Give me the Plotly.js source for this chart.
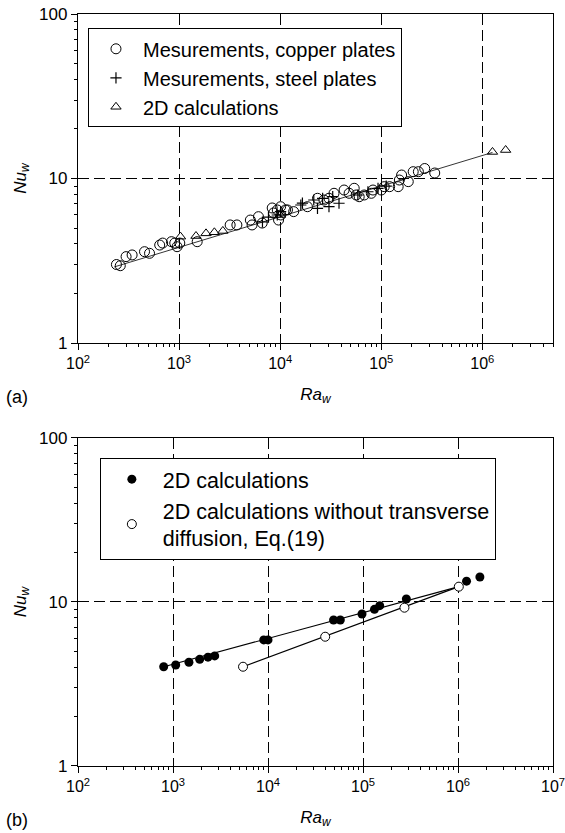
<!DOCTYPE html>
<html><head><meta charset="utf-8">
<script src="https://cdn.plot.ly/plotly-3.0.1.min.js"></script>
<style>html,body{margin:0;padding:0;background:#fff}#chart{width:565px;height:833px}</style>
</head><body><div id="chart"></div>
<script>
// ---- (a) measurements and calculations ----
const copperRa = [240, 262, 299, 343, 455, 510, 643, 688, 840, 906, 955, 1016, 1510, 3200, 3730, 5070, 5270, 6100, 6640, 8340, 8590, 9360, 9640, 10100, 10150, 11300, 11800, 13600, 18600, 23400, 27100, 30400, 34100, 42900, 48100, 54000, 56500, 60500, 67900, 79700, 82800, 100000, 107000, 121000, 147000, 151000, 159000, 185000, 207000, 233000, 269000, 338000];
const copperNu = [3.00, 2.95, 3.35, 3.43, 3.59, 3.51, 3.94, 4.05, 4.13, 4.05, 3.85, 4.05, 4.13, 5.22, 5.22, 5.59, 5.22, 5.86, 5.36, 6.62, 6.17, 6.44, 5.59, 6.74, 6.00, 6.44, 6.44, 6.29, 6.74, 7.58, 7.40, 7.58, 8.13, 8.51, 8.13, 8.72, 7.94, 7.75, 7.94, 8.13, 8.51, 8.51, 8.92, 8.92, 8.92, 9.79, 10.5, 9.57, 11.0, 11.0, 11.5, 10.8];
const steelRa = [6680, 7660, 9360, 10100, 16000, 16600, 21500, 23400, 26300, 30400, 33100, 38200, 58700, 73800, 92900, 112000];
const steelNu = [5.44, 5.83, 6.00, 6.29, 6.90, 7.08, 7.40, 6.59, 7.58, 6.74, 7.75, 7.07, 7.94, 8.31, 8.72, 9.00];
const calcTopRa = [1033, 1469, 1846, 2234, 2710, 10000, 1260000, 1700000];
const calcTopNu = [4.43, 4.47, 4.64, 4.71, 4.80, 6.00, 14.5, 14.9];
const fitTopRa = [228, 1260000];
const fitTopNu = [2.90, 14.4];

// ---- (b) calculations ----
const calcRa = [798, 1067, 1472, 1910, 2335, 2748, 9020, 10000, 49000, 57700, 97600, 132000, 150000, 286000, 1230000, 1700000];
const calcNu = [4.03, 4.13, 4.29, 4.47, 4.61, 4.69, 5.87, 5.87, 7.77, 7.77, 8.45, 9.02, 9.50, 10.43, 13.4, 14.2];
const noDiffRa = [5460, 40000, 273000, 1020000];
const noDiffNu = [4.03, 6.14, 9.23, 12.4];
const fitCalcRa = [800, 1020000];
const fitCalcNu = [4.03, 12.4];
const fitNoDiffRa = [5460, 1020000];
const fitNoDiffNu = [4.03, 12.4];

// tick labels
const xTickVals = [1e2, 1e3, 1e4, 1e5, 1e6, 1e7];
const xTickText = ['10<sup>2</sup>', '10<sup>3</sup>', '10<sup>4</sup>', '10<sup>5</sup>', '10<sup>6</sup>', '10<sup>7</sup>'];
const yTickVals = [1, 10, 100];
const yTickText = ['1', '10', '100'];

const minorX = [];
for (let e = 2; e < 7; e++) for (let m = 2; m <= 9; m++) minorX.push(m * Math.pow(10, e));
const minorY = [];
for (let e = 0; e < 2; e++) for (let m = 2; m <= 9; m++) minorY.push(m * Math.pow(10, e));

const FONT = 'Liberation Sans, Arial, Helvetica, sans-serif';

const traces = [
  {x: fitTopRa, y: fitTopNu, mode: 'lines', line: {color: 'black', width: 0.8}, showlegend: false, xaxis: 'x', yaxis: 'y', hoverinfo: 'skip'},
  {x: copperRa, y: copperNu, mode: 'markers', name: 'Mesurements, copper plates',
   marker: {symbol: 'circle-open', size: 10, color: 'black', line: {width: 1, color: 'black'}}, xaxis: 'x', yaxis: 'y', legend: 'legend'},
  {x: steelRa, y: steelNu, mode: 'markers', name: 'Mesurements, steel plates',
   marker: {symbol: 'cross-thin-open', size: 8, color: 'black', line: {width: 1.2, color: 'black'}}, xaxis: 'x', yaxis: 'y', legend: 'legend'},
  {x: calcTopRa, y: calcTopNu, mode: 'markers', name: '2D calculations',
   marker: {symbol: 'triangle-up-open', size: 9, color: 'black', line: {width: 1, color: 'black'}}, xaxis: 'x', yaxis: 'y', legend: 'legend'},

  {x: fitCalcRa, y: fitCalcNu, mode: 'lines', line: {color: 'black', width: 1.2}, showlegend: false, xaxis: 'x2', yaxis: 'y2', hoverinfo: 'skip'},
  {x: fitNoDiffRa, y: fitNoDiffNu, mode: 'lines', line: {color: 'black', width: 1.2}, showlegend: false, xaxis: 'x2', yaxis: 'y2', hoverinfo: 'skip'},
  {x: calcRa, y: calcNu, mode: 'markers', name: '2D calculations',
   marker: {symbol: 'circle', size: 9, color: 'black'}, xaxis: 'x2', yaxis: 'y2', legend: 'legend2'},
  {x: noDiffRa, y: noDiffNu, mode: 'markers', name: '2D calculations without transverse<br>diffusion, Eq.(19)',
   marker: {symbol: 'circle', size: 9, color: 'white', line: {width: 1, color: 'black'}}, xaxis: 'x2', yaxis: 'y2', legend: 'legend2'}
];

function xAxis(range, anchor) {
  return {
    type: 'log', range: range, anchor: anchor, domain: [0, 1],
    tickmode: 'array', tickvals: xTickVals, ticktext: xTickText,
    ticks: 'outside', ticklen: 6, tickwidth: 1, tickcolor: 'black',
    ticklabeloverflow: 'allow',
    showline: true, linecolor: 'black', linewidth: 1.2, mirror: true,
    showgrid: true, gridcolor: 'black', gridwidth: 1, griddash: '11px,5px',
    zeroline: false,
    minor: {tickmode: 'array', tickvals: minorX, ticks: 'outside', ticklen: 3, tickcolor: 'black', showgrid: false},
    tickfont: {family: FONT, size: 16, color: 'black'},
    title: {text: '<i>Ra<sub>w</sub></i>', font: {family: FONT, size: 17, color: 'black'}, standoff: 16}
  };
}
function yAxis(domain, anchor) {
  return {
    type: 'log', range: [0, 2], anchor: anchor, domain: domain,
    tickmode: 'array', tickvals: yTickVals, ticktext: yTickText,
    ticks: 'outside', ticklen: 6, tickwidth: 1, tickcolor: 'black',
    ticklabeloverflow: 'allow',
    showline: true, linecolor: 'black', linewidth: 1.2, mirror: true,
    showgrid: true, gridcolor: 'black', gridwidth: 1, griddash: '11px,5px',
    zeroline: false,
    minor: {tickmode: 'array', tickvals: minorY, ticks: 'outside', ticklen: 3, tickcolor: 'black', showgrid: false},
    tickfont: {family: FONT, size: 17, color: 'black'},
    title: {text: '<i>Nu<sub>w</sub></i>', font: {family: FONT, size: 17, color: 'black'}, standoff: 8}
  };
}

const layout = {
  width: 565, height: 833,
  margin: {l: 78, r: 12, t: 14, b: 67},
  paper_bgcolor: 'white', plot_bgcolor: 'white',
  font: {family: FONT, color: 'black'},
  xaxis: xAxis([2, Math.log10(5e6)], 'y'),
  yaxis: yAxis([0.5625, 1], 'x'),
  xaxis2: xAxis([2, 7], 'y2'),
  yaxis2: yAxis([0, 0.4362], 'x2'),
  legend: {x: 0.021, y: 0.981, xanchor: 'left', yanchor: 'top', bgcolor: 'white', bordercolor: 'black', borderwidth: 1,
           font: {family: FONT, size: 20, color: 'black'}, tracegroupgap: 0, itemwidth: 44},
  legend2: {x: 0.046, y: 0.41, xanchor: 'left', yanchor: 'top', bgcolor: 'white', bordercolor: 'black', borderwidth: 1,
            font: {family: FONT, size: 21.5, color: 'black'}, tracegroupgap: 0, itemwidth: 52},
  annotations: [
    {text: '(a)', xref: 'paper', yref: 'paper', x: -0.155, y: (766 - 397) / 752, xanchor: 'left', yanchor: 'middle', showarrow: false,
     font: {family: FONT, size: 18, color: 'black'}},
    {text: '(b)', xref: 'paper', yref: 'paper', x: -0.155, y: (766 - 820) / 752, xanchor: 'left', yanchor: 'middle', showarrow: false,
     font: {family: FONT, size: 18, color: 'black'}}
  ],
  showlegend: true
};

Plotly.newPlot('chart', traces, layout, {staticPlot: true, displayModeBar: false});
</script></body></html>
